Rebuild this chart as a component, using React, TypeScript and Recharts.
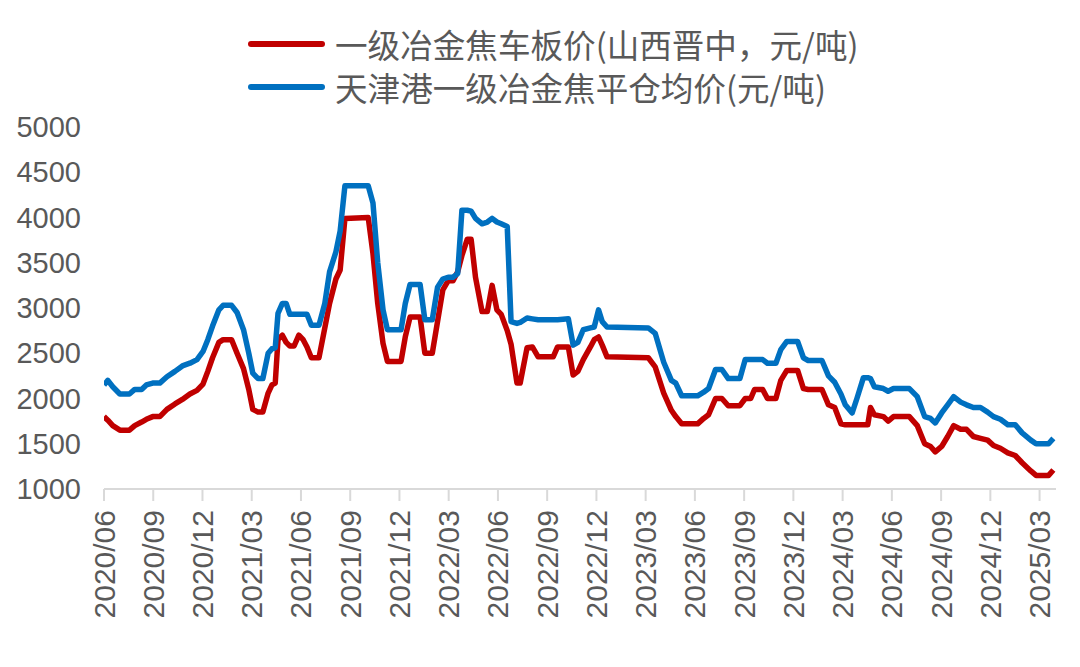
import React from "react";
import { LineChart, Line, XAxis, YAxis, Legend } from "recharts";

const dates = [
  "2020-06-01","2020-06-08","2020-06-17","2020-06-30","2020-07-18","2020-07-28","2020-08-10","2020-08-19","2020-08-31","2020-09-13",
  "2020-09-26","2020-10-11","2020-10-25","2020-11-08","2020-11-21","2020-12-02","2020-12-11","2020-12-20","2021-01-01","2021-01-09",
  "2021-01-25","2021-02-04","2021-02-15","2021-02-24","2021-03-03","2021-03-13","2021-03-22","2021-04-01","2021-04-08","2021-04-14",
  "2021-04-19","2021-04-27","2021-05-04","2021-05-11","2021-05-19","2021-05-28","2021-06-05","2021-06-12","2021-06-20","2021-07-04",
  "2021-07-15","2021-07-24","2021-08-05","2021-08-13","2021-08-22","2021-10-04","2021-10-13","2021-10-22","2021-11-01","2021-11-09",
  "2021-12-04","2021-12-12","2021-12-21","2022-01-09","2022-01-18","2022-02-01","2022-02-10","2022-02-19","2022-02-28","2022-03-09",
  "2022-03-18","2022-03-26","2022-04-05","2022-04-12","2022-04-20","2022-05-02","2022-05-12","2022-05-21","2022-05-30","2022-06-07",
  "2022-06-18","2022-06-25","2022-07-06","2022-07-12","2022-07-25","2022-08-04","2022-08-15","2022-09-12","2022-09-20","2022-10-10",
  "2022-10-19","2022-10-28","2022-11-07","2022-11-20","2022-11-27","2022-12-05","2022-12-12","2022-12-21","2023-03-06","2023-03-19",
  "2023-04-04","2023-04-18","2023-04-26","2023-05-07","2023-06-06","2023-06-17","2023-06-26","2023-07-09","2023-07-21","2023-08-02",
  "2023-08-24","2023-09-03","2023-09-13","2023-09-20","2023-10-05","2023-10-14","2023-10-30","2023-11-08","2023-11-19","2023-12-09",
  "2023-12-20","2023-12-29","2024-01-24","2024-02-05","2024-02-16","2024-02-27","2024-03-06","2024-03-19","2024-03-28","2024-04-09",
  "2024-04-17","2024-04-22","2024-04-29","2024-05-16","2024-05-25","2024-06-04","2024-07-03","2024-07-18","2024-08-01","2024-08-12",
  "2024-08-21","2024-09-02","2024-09-13","2024-09-24","2024-10-07","2024-10-18","2024-10-31","2024-11-13","2024-11-26","2024-12-07",
  "2024-12-20","2025-01-03","2025-01-17","2025-01-30","2025-02-14","2025-02-23","2025-03-18","2025-03-27",
];

const shanxiPrice = [
  1800,1760,1700,1650,1650,1700,1740,1770,1800,1800,
  1880,1940,1990,2050,2090,2160,2300,2450,2620,2650,
  2650,2500,2330,2100,1880,1850,1850,2060,2150,2170,
  2650,2700,2620,2580,2580,2700,2650,2570,2450,2450,
  2780,3050,3320,3420,3990,4000,3600,3050,2610,2410,
  2410,2680,2900,2900,2500,2500,2850,3200,3300,3300,
  3400,3580,3760,3760,3340,2960,2960,3250,2980,2930,
  2750,2600,2170,2170,2560,2570,2460,2460,2570,2570,
  2260,2300,2430,2570,2650,2680,2590,2460,2450,2350,
  2060,1870,1800,1720,1720,1780,1820,2000,2000,1920,
  1920,2000,2000,2100,2100,2000,2000,2200,2310,2310,
  2110,2100,2100,1930,1900,1720,1710,1710,1710,1710,
  1710,1900,1820,1800,1750,1800,1800,1700,1500,1470,
  1410,1470,1580,1700,1660,1660,1580,1560,1540,1480,
  1450,1400,1370,1290,1200,1150,1150,1210,
];

const tianjinPrice = [
  2150,2200,2130,2050,2050,2100,2100,2150,2170,2170,
  2240,2300,2360,2390,2430,2520,2650,2800,2980,3030,
  3030,2950,2760,2500,2280,2220,2220,2500,2550,2560,
  2940,3050,3050,2930,2930,2930,2930,2930,2810,2810,
  3050,3400,3620,3850,4350,4350,4160,3500,2980,2760,
  2760,3050,3260,3260,2870,2870,3230,3320,3340,3340,
  3380,4080,4080,4070,3990,3930,3950,3990,3950,3930,
  3900,2850,2830,2840,2890,2880,2870,2870,2870,2880,
  2590,2620,2760,2780,2790,2980,2850,2790,2780,2720,
  2400,2200,2170,2030,2030,2070,2110,2320,2320,2220,
  2220,2430,2430,2430,2430,2390,2390,2540,2630,2630,
  2450,2420,2420,2250,2180,2050,1930,1840,2000,2230,
  2230,2220,2130,2110,2080,2110,2110,2020,1800,1780,
  1730,1840,1930,2020,1960,1930,1900,1900,1850,1800,
  1770,1710,1710,1620,1540,1500,1500,1560,
];

const seriesNames = ["一级冶金焦车板价(山西晋中，元/吨)", "天津港一级冶金焦平仓均价(元/吨)"];
const seriesColors = ["#C00000", "#0070C0"];

const xTickLabels = [
  "2020/06","2020/09","2020/12","2021/03","2021/06","2021/09","2021/12","2022/03","2022/06","2022/09",
  "2022/12","2023/03","2023/06","2023/09","2023/12","2024/03","2024/06","2024/09","2024/12","2025/03",
];
const yTicks = [1000, 1500, 2000, 2500, 3000, 3500, 4000, 4500, 5000];

function toMonthIndex(d: string): number {
  const parts = d.split(/[-/]/).map(Number);
  const y = parts[0];
  const m = parts[1];
  const day = parts[2] || 1;
  const dim = new Date(y, m, 0).getDate();
  return (y - 2020) * 12 + (m - 6) + (day - 1) / dim;
}

const data = dates.map((d, i) => ({
  t: toMonthIndex(d),
  date: d,
  shanxi: shanxiPrice[i],
  tianjin: tianjinPrice[i],
}));

const xTicks = xTickLabels.map((l) => toMonthIndex(l));
const labelByTick: Record<string, string> = {};
xTicks.forEach((t, i) => {
  labelByTick[String(t)] = xTickLabels[i];
});

const TEXT_COLOR = "#595959";

const XTick = (props: any) => {
  const { x, y, payload } = props;
  return (
    <text
      transform={`translate(${x},${y}) rotate(-90)`}
      textAnchor="end"
      dominantBaseline="central"
      fontFamily="'Liberation Sans', Arial, sans-serif"
      fontSize={30}
      fill={TEXT_COLOR}
    >
      {labelByTick[String(payload.value)]}
    </text>
  );
};

const YTick = (props: any) => {
  const { x, y, payload } = props;
  return (
    <text
      x={x}
      y={y}
      textAnchor="end"
      dominantBaseline="central"
      fontFamily="'Liberation Sans', Arial, sans-serif"
      fontSize={29}
      fill={TEXT_COLOR}
    >
      {payload.value}
    </text>
  );
};

const LegendContent = () => (
  <div style={{ fontFamily: "'Noto Sans CJK SC', sans-serif" }}>
    {seriesNames.map((name, i) => (
      <div key={name} style={{ display: "flex", alignItems: "center", height: 43 }}>
        <div
          style={{
            width: 77,
            height: 6,
            borderRadius: 3,
            background: seriesColors[i],
            marginRight: 10,
          }}
        />
        <span style={{ fontSize: 32.6, color: TEXT_COLOR, lineHeight: "43px", whiteSpace: "nowrap" }}>{name}</span>
      </div>
    ))}
  </div>
);

export default function App() {
  return (
    <div style={{ width: 1064, height: 651, position: "relative" }}>
      <LineChart
        width={1064}
        height={651}
        data={data}
        margin={{ top: 119, right: 16, bottom: 0, left: 0 }}
      >
        <XAxis
          dataKey="t"
          type="number"
          domain={[0, 58]}
          ticks={xTicks}
          interval={0}
          height={170}
          axisLine={{ stroke: "#D9D9D9", strokeWidth: 2 }}
          tickLine={{ stroke: "#D9D9D9", strokeWidth: 2 }}
          tickSize={12}
          tickMargin={9}
          tick={<XTick />}
          allowDataOverflow
        />
        <YAxis
          type="number"
          domain={[1000, 5000]}
          ticks={yTicks}
          interval={0}
          width={96}
          axisLine={false}
          tickLine={false}
          tickSize={0}
          tickMargin={23}
          tick={<YTick />}
        />
        <Legend
          verticalAlign="middle"
          align="center"
          layout="horizontal"
          content={<LegendContent />}
          wrapperStyle={{ position: "absolute", top: 14, left: 240, width: 800, height: 86 }}
        />
        <Line
          type="linear"
          dataKey="shanxi"
          name={seriesNames[0]}
          stroke={seriesColors[0]}
          strokeWidth={5.5}
          strokeLinejoin="round"
          dot={false}
          isAnimationActive={false}
        />
        <Line
          type="linear"
          dataKey="tianjin"
          name={seriesNames[1]}
          stroke={seriesColors[1]}
          strokeWidth={5.5}
          strokeLinejoin="round"
          dot={false}
          isAnimationActive={false}
        />
      </LineChart>
    </div>
  );
}
